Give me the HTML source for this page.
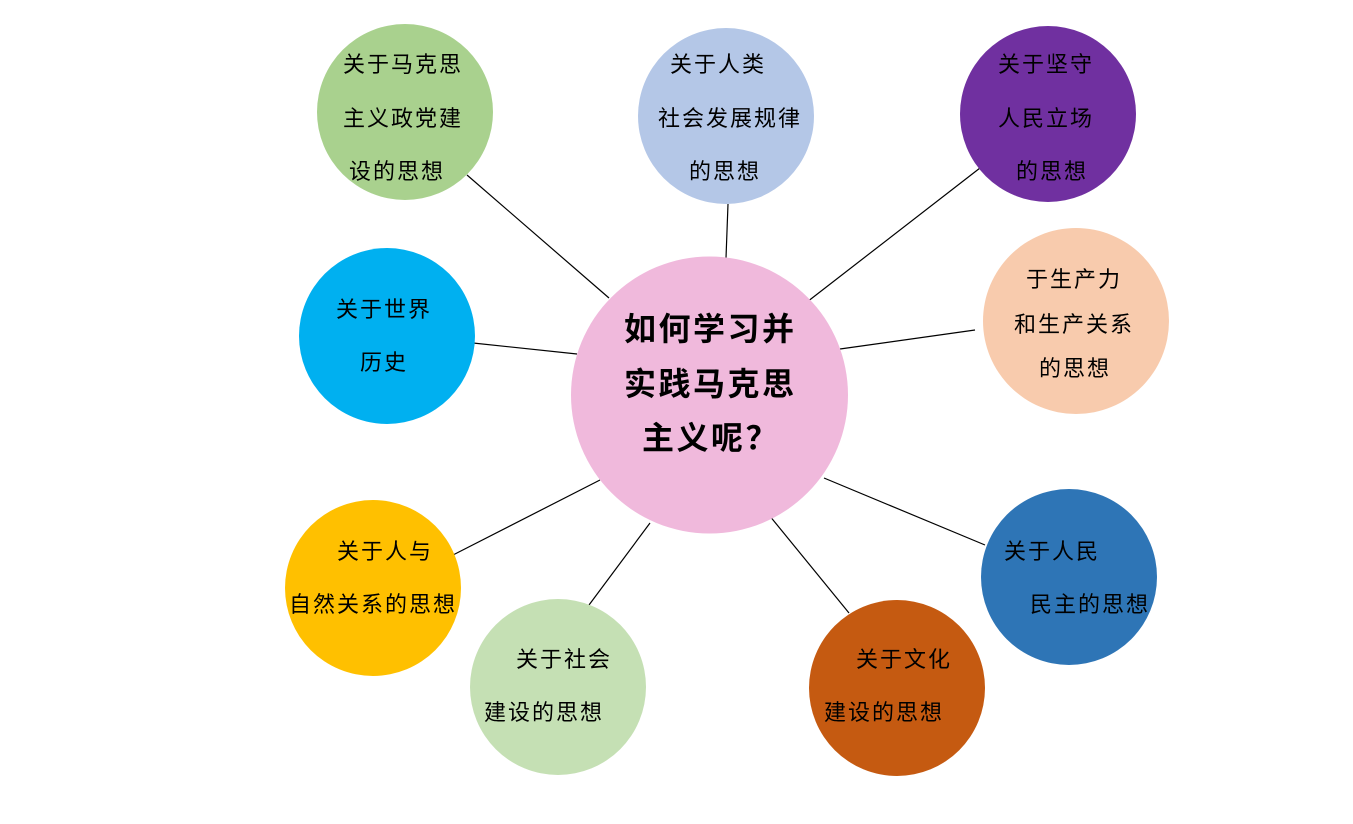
<!DOCTYPE html>
<html><head><meta charset="utf-8"><style>
html,body{margin:0;padding:0;background:#fff;}
svg{display:block}
text{font-family:"Liberation Sans","Noto Sans CJK SC",sans-serif;font-size:22px;letter-spacing:2px;fill:#000}
.c{font-size:32px;font-weight:bold;letter-spacing:2.5px}
</style></head><body>
<svg width="1353" height="824" viewBox="0 0 1353 824" xmlns="http://www.w3.org/2000/svg">
<g stroke="#000" stroke-width="1.2">
<line x1="467" y1="175" x2="609" y2="298"/>
<line x1="728" y1="204" x2="726" y2="258"/>
<line x1="980" y1="168" x2="807" y2="302"/>
<line x1="975" y1="330" x2="840" y2="349"/>
<line x1="473" y1="343" x2="577" y2="354"/>
<line x1="453" y1="555" x2="600" y2="480"/>
<line x1="589" y1="605" x2="650" y2="523"/>
<line x1="849" y1="613" x2="769" y2="515"/>
<line x1="985" y1="545" x2="824" y2="478"/>
</g>
<circle cx="709.5" cy="395" r="138.5" fill="#f0b9dc"/>
<circle cx="405" cy="112" r="88" fill="#a9d18e"/>
<circle cx="726" cy="116" r="88" fill="#b4c7e7"/>
<circle cx="1048" cy="114" r="88" fill="#7030a0"/>
<circle cx="1076" cy="321" r="93" fill="#f8cbad"/>
<circle cx="387" cy="336" r="88" fill="#00b0f0"/>
<circle cx="373" cy="588" r="88" fill="#ffc000"/>
<circle cx="558" cy="687" r="88" fill="#c5e0b4"/>
<circle cx="897" cy="688" r="88" fill="#c55a11"/>
<circle cx="1069" cy="577" r="88" fill="#2e75b6"/>

<text class="c" x="624" y="340">如何学习并</text>
<text class="c" x="624" y="395">实践马克思</text>
<text class="c" x="642" y="449">主义呢？</text>

<text x="343" y="72">关于马克思</text>
<text x="343" y="126">主义政党建</text>
<text x="349" y="179">设的思想</text>

<text x="670" y="72">关于人类</text>
<text x="658" y="126">社会发展规律</text>
<text x="689" y="179">的思想</text>

<text x="998" y="72">关于坚守</text>
<text x="998" y="126">人民立场</text>
<text x="1016" y="179">的思想</text>

<text x="1026" y="287">于生产力</text>
<text x="1014" y="332">和生产关系</text>
<text x="1039" y="376">的思想</text>

<text x="336" y="317">关于世界</text>
<text x="360" y="370">历史</text>

<text x="337" y="559">关于人与</text>
<text x="289" y="612">自然关系的思想</text>

<text x="516" y="667">关于社会</text>
<text x="484" y="720">建设的思想</text>

<text x="856" y="667">关于文化</text>
<text x="824" y="720">建设的思想</text>

<text x="1004" y="559">关于人民</text>
<text x="1030" y="612">民主的思想</text>
</svg>
</body></html>
